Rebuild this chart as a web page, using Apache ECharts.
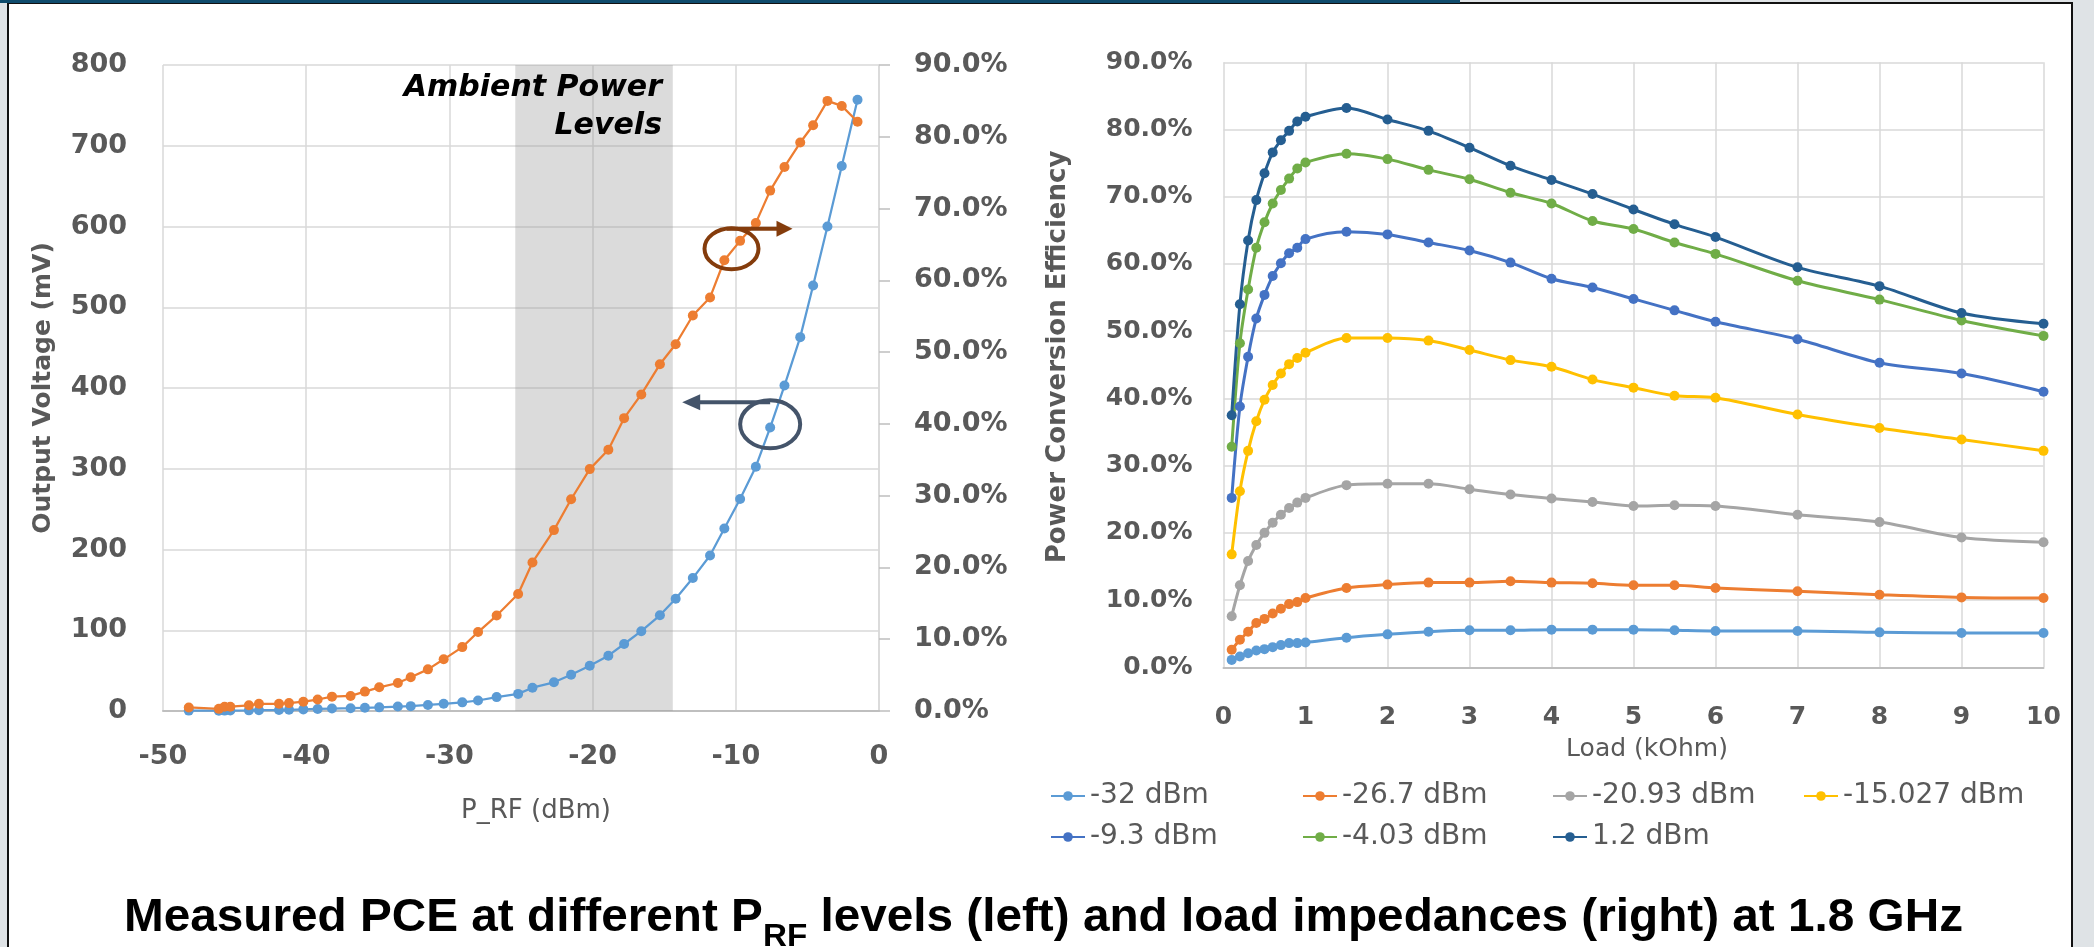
<!DOCTYPE html>
<html>
<head>
<meta charset="utf-8">
<script src="https://cdn.jsdelivr.net/npm/echarts@6/dist/echarts.min.js"></script>
<style>
  html, body { margin: 0; padding: 0; background: #dfe3e6; }
  #chart { width: 2094px; height: 947px; }
</style>
</head>
<body>
<div id="chart"></div>
<script>
// left chart: sweep of input power
const prfDbm = [-48.2, -46.1, -45.7, -45.3, -44.0, -43.3, -41.9, -41.2, -40.2, -39.2, -38.2, -36.9, -35.9, -34.9,
  -33.6, -32.7, -31.5, -30.4, -29.1, -28.0, -26.7, -25.2, -24.2, -22.7, -21.5, -20.2, -18.9, -17.8, -16.6,
  -15.3, -14.2, -13.0, -11.8, -10.8, -9.7, -8.6, -7.6, -6.6, -5.5, -4.6, -3.6, -2.6, -1.5];
const voutMv = [0.5, 0.4, 0.5, 0.6, 0.8, 1.0, 1.2, 1.5, 2, 2.5, 3, 3.5, 4, 4.5,
  5.5, 6, 7.5, 8.9, 10.7, 13, 17.2, 21.2, 28.9, 35.5, 45, 56, 68.5, 83, 98.8,
  118.5, 139, 164.6, 192.6, 226, 262.6, 302.5, 351, 403, 463, 527, 600, 675, 757];
const pceLeft = [0.5, 0.3, 0.6, 0.6, 0.8, 1.0, 1.0, 1.1, 1.3, 1.6, 2.0, 2.1, 2.7, 3.3,
  3.9, 4.7, 5.8, 7.2, 8.9, 11.0, 13.3, 16.3, 20.7, 25.2, 29.5, 33.7, 36.4, 40.8, 44.1,
  48.3, 51.1, 55.1, 57.6, 62.8, 65.5, 68.0, 72.5, 75.8, 79.2, 81.6, 85.0, 84.3, 82.1];
const ambientBand = [-25.4, -14.4];

// right chart: sweep of load
const loadKohm = [0.1, 0.2, 0.3, 0.4, 0.5, 0.6, 0.7, 0.8, 0.9, 1.0, 1.5, 2, 2.5, 3, 3.5, 4, 4.5, 5, 5.5, 6, 7, 8, 9, 10];
const levelNames = ['-32 dBm', '-26.7 dBm', '-20.93 dBm', '-15.027 dBm', '-9.3 dBm', '-4.03 dBm', '1.2 dBm'];
const pceM32 = [1.1, 1.6, 2.1, 2.5, 2.7, 3.0, 3.3, 3.6, 3.6, 3.7, 4.4, 4.9, 5.3, 5.5, 5.5, 5.6, 5.6, 5.6, 5.5, 5.4, 5.4, 5.2, 5.1, 5.1];
const pceM26 = [2.6, 4.1, 5.3, 6.6, 7.2, 8.0, 8.7, 9.4, 9.7, 10.3, 11.8, 12.3, 12.6, 12.6, 12.8, 12.6, 12.5, 12.2, 12.2, 11.8, 11.3, 10.8, 10.4, 10.3];
const pceM20 = [7.6, 12.2, 15.8, 18.2, 20.0, 21.5, 22.7, 23.7, 24.5, 25.2, 27.1, 27.3, 27.3, 26.5, 25.7, 25.1, 24.6, 24.0, 24.1, 24.0, 22.7, 21.6, 19.3, 18.6];
const pceM15 = [16.8, 26.2, 32.2, 36.6, 39.8, 42.0, 43.7, 45.1, 46.0, 46.8, 49.0, 49.0, 48.6, 47.2, 45.7, 44.7, 42.8, 41.6, 40.4, 40.1, 37.6, 35.6, 33.9, 32.2];
const pceM9 = [25.2, 38.8, 46.2, 51.9, 55.4, 58.2, 60.1, 61.6, 62.4, 63.7, 64.8, 64.4, 63.2, 62.0, 60.2, 57.8, 56.5, 54.8, 53.1, 51.4, 48.8, 45.3, 43.7, 41.0];
const pceM4 = [32.8, 48.2, 56.2, 62.4, 66.2, 69.0, 71.0, 72.7, 74.2, 75.1, 76.4, 75.6, 74.0, 72.6, 70.6, 69.0, 66.4, 65.2, 63.2, 61.5, 57.5, 54.7, 51.6, 49.3];
const pceP1 = [37.5, 54.0, 63.5, 69.5, 73.5, 76.6, 78.4, 79.8, 81.2, 81.9, 83.2, 81.5, 79.8, 77.3, 74.6, 72.5, 70.4, 68.1, 65.9, 64.0, 59.5, 56.7, 52.7, 51.1];
const levelValues = [pceM32, pceM26, pceM20, pceM15, pceM9, pceM4, pceP1];
const levelColors = ['#5b9bd5', '#ed7d31', '#a5a5a5', '#ffc000', '#4472c4', '#70ad47', '#255e91'];

const GRAY = '#595959';
const GRID_LINE = { show: true, lineStyle: { color: '#d9d9d9', width: 1.5 } };
const pctFmt = v => v.toFixed(1) + '%';

const chart = echarts.init(document.getElementById('chart'));

const zip = (xs, ys) => xs.map((x, i) => [x, ys[i]]);

const rightSeries = levelNames.map((name, i) => ({
  name: name,
  type: 'line',
  xAxisIndex: 1,
  yAxisIndex: 2,
  data: zip(loadKohm, levelValues[i]),
  smooth: 0.3,
  symbol: 'circle',
  symbolSize: 10,
  lineStyle: { width: 3, color: levelColors[i] },
  itemStyle: { color: levelColors[i] }
}));

// legend laid out in 4 fixed columns like the original
const legendCols = [1050, 1302, 1552, 1803];
const legends = legendCols.map((left, c) => ({
  orient: 'vertical',
  left: left,
  top: 782,
  padding: 0,
  itemGap: 13,
  itemWidth: 34,
  itemHeight: 12,
  data: levelNames.filter((n, i) => i % 4 === c),
  textStyle: { fontFamily: 'DejaVu Sans', fontSize: 28, color: GRAY }
}));

chart.setOption({
  animation: false,
  backgroundColor: '#dfe3e6',
  grid: [
    { left: 163, top: 65, width: 716, height: 646 },
    { left: 1223.5, top: 62.3, width: 820, height: 605 }
  ],
  legend: legends,
  xAxis: [
    {
      gridIndex: 0, type: 'value', min: -50, max: 0, interval: 10,
      axisLine: { lineStyle: { color: '#bfbfbf', width: 2 } },
      axisTick: { show: false },
      splitLine: GRID_LINE,
      axisLabel: { margin: 32, fontFamily: 'DejaVu Sans', fontWeight: 'bold', fontSize: 27, color: GRAY }
    },
    {
      gridIndex: 1, type: 'value', min: 0, max: 10, interval: 1,
      axisLine: { lineStyle: { color: '#bfbfbf', width: 2 } },
      axisTick: { show: false },
      splitLine: GRID_LINE,
      axisLabel: { margin: 38, fontFamily: 'DejaVu Sans', fontWeight: 'bold', fontSize: 25, color: GRAY }
    }
  ],
  yAxis: [
    {
      gridIndex: 0, type: 'value', min: 0, max: 800, interval: 100,
      axisLine: { show: false }, axisTick: { show: false },
      splitLine: GRID_LINE,
      axisLabel: { margin: 36, fontFamily: 'DejaVu Sans', fontWeight: 'bold', fontSize: 27, color: GRAY }
    },
    {
      gridIndex: 0, type: 'value', position: 'right', min: 0, max: 90, interval: 10,
      axisLine: { show: true, lineStyle: { color: '#d9d9d9', width: 1.5 } },
      axisTick: { show: true, length: 11, lineStyle: { color: '#bfbfbf', width: 1.5 } },
      splitLine: { show: false },
      axisLabel: { margin: 35, formatter: pctFmt, fontFamily: 'DejaVu Sans', fontWeight: 'bold', fontSize: 27, color: GRAY }
    },
    {
      gridIndex: 1, type: 'value', min: 0, max: 90, interval: 10,
      axisLine: { show: false }, axisTick: { show: false },
      splitLine: GRID_LINE,
      axisLabel: { margin: 31, formatter: pctFmt, fontFamily: 'DejaVu Sans', fontWeight: 'bold', fontSize: 25, color: GRAY }
    }
  ],
  series: [
    {
      name: 'Output Voltage',
      type: 'line',
      xAxisIndex: 0, yAxisIndex: 0,
      data: zip(prfDbm, voutMv),
      symbol: 'circle', symbolSize: 10,
      lineStyle: { width: 2.25, color: '#5b9bd5' },
      itemStyle: { color: '#5b9bd5' },
      markArea: {
        silent: true,
        itemStyle: { color: 'rgba(150,150,150,0.34)' },
        data: [[{ xAxis: ambientBand[0] }, { xAxis: ambientBand[1] }]]
      }
    },
    {
      name: 'PCE',
      type: 'line',
      xAxisIndex: 0, yAxisIndex: 1,
      data: zip(prfDbm, pceLeft),
      symbol: 'circle', symbolSize: 10,
      lineStyle: { width: 2.25, color: '#ed7d31' },
      itemStyle: { color: '#ed7d31' }
    }
  ].concat(rightSeries)
});

// caption with subscript, condensed to the width of the original
const cap1 = 'Measured PCE at different P';
const capSub = 'RF';
const cap2 = ' levels (left) and load impedances (right) at 1.8 GHz';
const capFont = 'bold 46px "Liberation Sans", Arial, sans-serif';
const subFont = 'bold 32px "Liberation Sans", Arial, sans-serif';
const ctx = document.createElement('canvas').getContext('2d');
ctx.font = capFont;
const w1 = ctx.measureText(cap1).width;
const w3 = ctx.measureText(cap2).width;
ctx.font = subFont;
const w2 = ctx.measureText(capSub).width;
const capScale = (1963 - 124) / (w1 + w2 + w3);

// annotation anchors in data space
const orangeRing = chart.convertToPixel({ xAxisIndex: 0, yAxisIndex: 1 }, [-10.3, 64.4]);
const blueRing = chart.convertToPixel({ xAxisIndex: 0, yAxisIndex: 0 }, [-7.6, 355]);

const titleFont = 'bold 25px "DejaVu Sans"';

chart.setOption({
  graphic: [
    // page frame
    { type: 'rect', z: -10, shape: { x: 8, y: 3, width: 2064, height: 960 },
      style: { fill: '#ffffff', stroke: '#111111', lineWidth: 2 } },
    { type: 'rect', z: -9, shape: { x: 0, y: 0, width: 1460, height: 3 }, style: { fill: '#0f4c6d' } },
    // axis titles
    { type: 'text', x: 43, y: 388, rotation: Math.PI / 2,
      style: { text: 'Output Voltage (mV)', font: titleFont, fill: GRAY, align: 'center', verticalAlign: 'middle' } },
    { type: 'text', x: 1058, y: 357, rotation: Math.PI / 2,
      style: { text: 'Power Conversion Efficiency', font: 'bold 26px "DejaVu Sans"', fill: GRAY, align: 'center', verticalAlign: 'middle' } },
    { type: 'text', x: 536, y: 811,
      style: { text: 'P_RF (dBm)', font: '26px "DejaVu Sans"', fill: GRAY, align: 'center', verticalAlign: 'middle' } },
    { type: 'text', x: 1647, y: 749,
      style: { text: 'Load (kOhm)', font: '25px "DejaVu Sans"', fill: GRAY, align: 'center', verticalAlign: 'middle' } },
    // band label
    { type: 'text', x: 662, y: 88, z: 50,
      style: { text: 'Ambient Power', font: 'italic bold 30px "DejaVu Sans"', fill: '#000', align: 'right', verticalAlign: 'middle' } },
    { type: 'text', x: 662, y: 126, z: 50,
      style: { text: 'Levels', font: 'italic bold 30px "DejaVu Sans"', fill: '#000', align: 'right', verticalAlign: 'middle' } },
    // orange series -> right axis
    { type: 'ellipse', z: 60, shape: { cx: orangeRing[0], cy: orangeRing[1], rx: 27, ry: 20.5 },
      style: { fill: 'none', stroke: '#843c0c', lineWidth: 4 } },
    { type: 'line', z: 60, shape: { x1: orangeRing[0] - 5, y1: orangeRing[1] - 20, x2: orangeRing[0] + 47, y2: orangeRing[1] - 20 },
      style: { stroke: '#843c0c', lineWidth: 4 } },
    { type: 'polygon', z: 60, shape: { points: [[orangeRing[0] + 45, orangeRing[1] - 28], [orangeRing[0] + 61, orangeRing[1] - 20], [orangeRing[0] + 45, orangeRing[1] - 12]] },
      style: { fill: '#843c0c' } },
    // blue series -> left axis
    { type: 'ellipse', z: 60, shape: { cx: blueRing[0], cy: blueRing[1], rx: 30, ry: 24 },
      style: { fill: 'none', stroke: '#44546a', lineWidth: 4 } },
    { type: 'line', z: 60, shape: { x1: blueRing[0], y1: blueRing[1] - 22, x2: blueRing[0] - 72, y2: blueRing[1] - 22 },
      style: { stroke: '#44546a', lineWidth: 4 } },
    { type: 'polygon', z: 60, shape: { points: [[blueRing[0] - 70, blueRing[1] - 30], [blueRing[0] - 88, blueRing[1] - 22], [blueRing[0] - 70, blueRing[1] - 14]] },
      style: { fill: '#44546a' } },
    // caption
    {
      type: 'group', x: 124, y: 0, scaleX: capScale,
      children: [
        { type: 'text', x: 0, y: 918, style: { text: cap1, font: capFont, fill: '#000', verticalAlign: 'middle' } },
        { type: 'text', x: w1, y: 937, style: { text: capSub, font: subFont, fill: '#000', verticalAlign: 'middle' } },
        { type: 'text', x: w1 + w2, y: 918, style: { text: cap2, font: capFont, fill: '#000', verticalAlign: 'middle' } }
      ]
    }
  ]
});
</script>
</body>
</html>
